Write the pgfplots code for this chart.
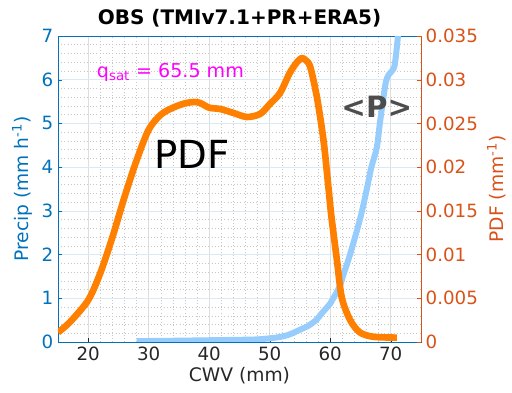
\documentclass[border=0pt]{standalone}
\usepackage{pgfplots}
\pgfplotsset{compat=1.18}
\usepackage{fontspec}
\setmainfont{DejaVu Sans}
\definecolor{mblue}{RGB}{0,114,189}
\definecolor{morange}{RGB}{217,83,25}
\definecolor{lineorange}{RGB}{255,128,0}
\definecolor{lineblue}{RGB}{150,205,252}
\definecolor{axgray}{RGB}{38,38,38}
\definecolor{txtgray}{RGB}{77,77,77}
\definecolor{qmag}{RGB}{255,0,255}
\begin{document}
\begin{tikzpicture}
\useasboundingbox (-43.5pt,-38.25pt) rectangle (340.5pt,256.5pt);
\begin{axis}[
  scale only axis, width=272.25pt, height=229.5pt,
  xmin=15, xmax=75, ymin=0, ymax=7,
  xtick={20,30,...,70}, ytick={0,1,...,7},
  minor x tick num=4, minor y tick num=4,
  grid=both,
  major x grid style={color=black!13, line width=0.5pt},
  major y grid style={color=mblue!15, line width=0.5pt},
  minor x grid style={color=black!22, dotted, line width=0.4pt},
  minor y grid style={color=black!22, dotted, line width=0.4pt},
  tick align=inside, major tick length=3pt, minor tick length=0pt,
  xtick pos=bottom, ytick pos=left,
  x axis line style={axgray, line width=0.5pt},
  y axis line style={mblue, line width=0.5pt},
  xtick style={axgray}, ytick style={mblue},
  /pgf/number format/assume math mode=true,
  tick label style={font=\fontsize{13.7}{16}\selectfont},
  xticklabel style={axgray},
  yticklabel style={mblue},
  xlabel={CWV (mm)},
  ylabel={Precip (mm h\textsuperscript{-1})},
  label style={font=\fontsize{14}{16}\selectfont},
  xlabel style={axgray, yshift=2pt},
  ylabel style={mblue},
  title={\bfseries OBS (TMIv7.1+PR+ERA5)},
  title style={font=\fontsize{15}{17}\selectfont, yshift=-3pt},
]
\addplot[lineblue, line width=4.5pt, smooth, tension=0.5] coordinates {
(28,0.02) (35,0.03) (40,0.04) (45,0.05) (48,0.06) (51,0.1) (53,0.16) (55,0.28)
(56.5,0.38) (57.8,0.52) (58.5,0.64) (60,0.88) (60.5,1.0) (61.6,1.28) (62.2,1.55)
(63,1.88) (63.8,2.25) (64.9,2.8) (65.5,3.15) (66.2,3.6) (66.8,4.0) (67.7,4.45)
(68.2,5.0) (68.8,5.6) (69.2,5.95) (69.6,6.1) (70.2,6.2) (70.6,6.3) (70.9,6.6)
(71.2,7.0) (71.4,7.2)
};
\end{axis}
\begin{axis}[
  scale only axis, width=272.25pt, height=229.5pt,
  xmin=15, xmax=75, ymin=0, ymax=0.035,
  axis x line=none, axis y line*=right,
  scaled y ticks=false,
  ytick={0,0.005,0.01,0.015,0.02,0.025,0.03,0.035},
  yticklabels={0,0.005,0.01,0.015,0.02,0.025,0.03,0.035},
  tick align=inside, major tick length=3pt,
  y axis line style={morange, line width=0.5pt},
  ytick style={morange},
  tick label style={font=\fontsize{13.7}{16}\selectfont, morange},
  ylabel={PDF (mm\textsuperscript{-1})},
  ylabel style={morange, font=\fontsize{14}{16}\selectfont},
]
\addplot[lineorange, line width=5pt, line join=round, smooth, tension=0.5] coordinates {
(15,0.0011) (17,0.0023) (20,0.0048) (22,0.0079) (24,0.012) (26,0.0166)
(28,0.0208) (30,0.0243) (32,0.026) (34,0.0268) (36,0.0273) (37.5,0.02745)
(38.5,0.02734) (40,0.0268) (41.8,0.02665) (44,0.0262) (46.2,0.02574)
(48.4,0.02608) (50,0.0272) (51.7,0.02848) (53.3,0.03077) (54.5,0.0320)
(55.3,0.03248) (56,0.0322) (56.7,0.03145) (57.8,0.0280) (58.9,0.0230)
(59.7,0.0177) (60.2,0.0143) (61.1,0.0094) (61.9,0.0051) (63.3,0.0025)
(64.9,0.0011) (67.1,0.0006) (71,0.0005)
};
\node[font=\fontsize{29}{32}\selectfont] at (axis cs:37.1,0.0214) {PDF};
\node[font=\fontsize{22}{26}\selectfont\bfseries, txtgray] at (axis cs:67.7,0.0269) {<P>};
\node[font=\fontsize{14.3}{16}\selectfont, text=qmag, anchor=west, inner sep=0pt] at (axis cs:21.4,0.03085) {q\textsubscript{sat} = 65.5 mm};
\end{axis}
\end{tikzpicture}
\end{document}
